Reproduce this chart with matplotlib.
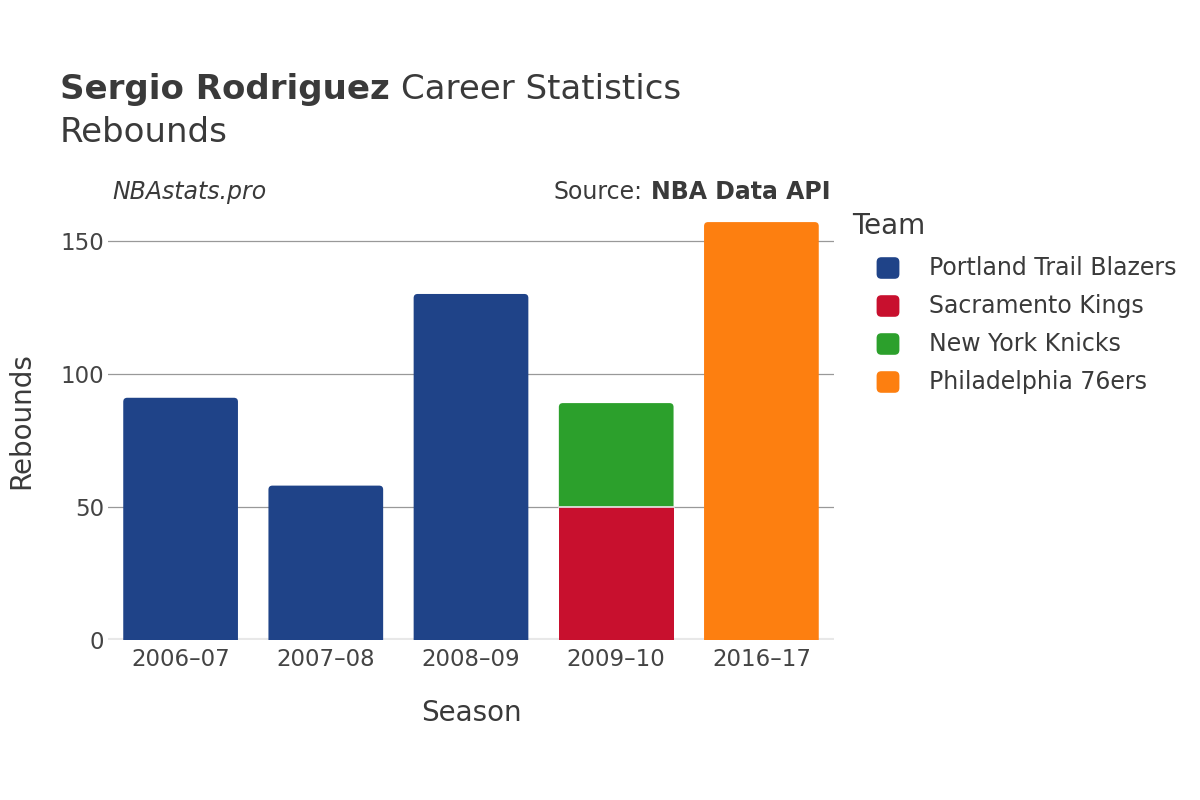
import numpy as np
import matplotlib
matplotlib.use("Agg")
import matplotlib.pyplot as plt
from matplotlib.patches import PathPatch, FancyBboxPatch
from matplotlib.path import Path

# Data
seasons = ["2006\u201307", "2007\u201308", "2008\u201309", "2009\u201310", "2016\u201317"]
teams = ["Portland Trail Blazers", "Sacramento Kings", "New York Knicks", "Philadelphia 76ers"]
team_colors = ["#1f4388", "#c8102e", "#2ca02c", "#fd7f10"]
portland = [91, 58, 130, 0, 0]
sacramento = [0, 0, 0, 50, 0]
knicks = [0, 0, 0, 39, 0]
philly = [0, 0, 0, 0, 157]
series = [portland, sacramento, knicks, philly]

text_col = "#3a3a3a"
plt.rcParams['font.family'] = ['DejaVu Sans']

fig = plt.figure(figsize=(12, 8), dpi=100)
ax = fig.add_axes([0.09, 0.2, 0.605, 0.549])

x = np.arange(len(seasons))
bottom = np.zeros(len(seasons))
ylim_top = 165
# corner radius ~4px in data units
rx = 4 / 145.0
ry = 4 / (0.549 * 800 / ylim_top)


def top_rounded(bx, by, bw, bh):
    x0, x1, y0, y1 = bx, bx + bw, by, by + bh
    verts = [(x0, y0), (x0, y1 - ry), (x0, y1), (x0 + rx, y1),
             (x1 - rx, y1), (x1, y1), (x1, y1 - ry), (x1, y0), (x0, y0)]
    codes = [Path.MOVETO, Path.LINETO, Path.CURVE3, Path.CURVE3,
             Path.LINETO, Path.CURVE3, Path.CURVE3, Path.LINETO, Path.CLOSEPOLY]
    return Path(verts, codes)


# which segment sits on top for each season
tops = {}
for si, vals in enumerate(series):
    for i, v in enumerate(vals):
        if v > 0:
            tops[i] = si

for si, vals in enumerate(series):
    vals = np.array(vals, dtype=float)
    bars = ax.bar(x, vals, bottom=bottom, width=0.79, color=team_colors[si],
                  edgecolor="none", zorder=2)
    for i, b in enumerate(bars):
        if vals[i] <= 0:
            b.set_visible(False)
            continue
        if tops.get(i) == si:
            b.set_visible(False)
            ax.add_patch(PathPatch(top_rounded(b.get_x(), b.get_y(), b.get_width(),
                                               b.get_height()),
                                   fc=team_colors[si], ec="none", zorder=2))
    bottom += vals
    # thin light separator between stacked segments
    for i in range(len(seasons)):
        if vals[i] > 0 and tops.get(i) != si:
            ax.plot([x[i] - 0.395, x[i] + 0.395], [bottom[i], bottom[i]],
                    color="#e8e8e8", linewidth=1.2, zorder=3)

ax.set_xlim(-0.5, len(seasons) - 0.5)
ax.set_ylim(0, ylim_top)
ax.set_yticks([0, 50, 100, 150])
ax.set_xticks(x)
ax.set_xticklabels(seasons)
ax.tick_params(length=0, labelsize=16.5, colors="#444444", pad=6)
ax.tick_params(axis="y", pad=3)
ax.grid(axis="y", color="#999999", linewidth=0.9, zorder=0)
ax.axhline(0, color="#e8e8e8", linewidth=3, zorder=1)
for s in ax.spines.values():
    s.set_visible(False)
ax.set_axisbelow(True)

ax.set_xlabel("Season", fontsize=20, color=text_col, labelpad=20)
ax.set_ylabel("Rebounds", fontsize=20, color=text_col, labelpad=18)

# Titles
t1 = fig.text(0.05, 0.888, "Sergio Rodriguez", fontsize=24.5, fontweight="bold",
              color=text_col, va="center")
fig.canvas.draw()
bb = t1.get_window_extent()
fig.text(bb.x1 / 1200 + 0.009, 0.888, "Career Statistics", fontsize=24.5,
         color=text_col, va="center")
fig.text(0.05, 0.834, "Rebounds", fontsize=24.5, color=text_col, va="center")
fig.text(0.094, 0.76, "NBAstats.pro", fontsize=17, style="italic",
         color=text_col, va="center")
t2 = fig.text(0.692, 0.76, "NBA Data API", fontsize=17, fontweight="bold",
              color=text_col, va="center", ha="right")
fig.canvas.draw()
bb2 = t2.get_window_extent()
fig.text(bb2.x0 / 1200 - 0.007, 0.76, "Source:", fontsize=17, color=text_col,
         va="center", ha="right")

# Legend
fig.text(0.71, 0.717, "Team", fontsize=20, color=text_col, va="center")
for k, (name, c) in enumerate(zip(teams, team_colors)):
    yc = 0.665 - k * 0.0475
    fig.add_artist(FancyBboxPatch((0.7305, yc - 0.0135), 0.019, 0.027,
                                  boxstyle="round,pad=0,rounding_size=0.004",
                                  mutation_aspect=1.5,
                                  transform=fig.transFigure, fc=c, ec="none"))
    fig.text(0.774, yc, name, fontsize=17, color=text_col, va="center")

fig.savefig("out.png", dpi=100)
